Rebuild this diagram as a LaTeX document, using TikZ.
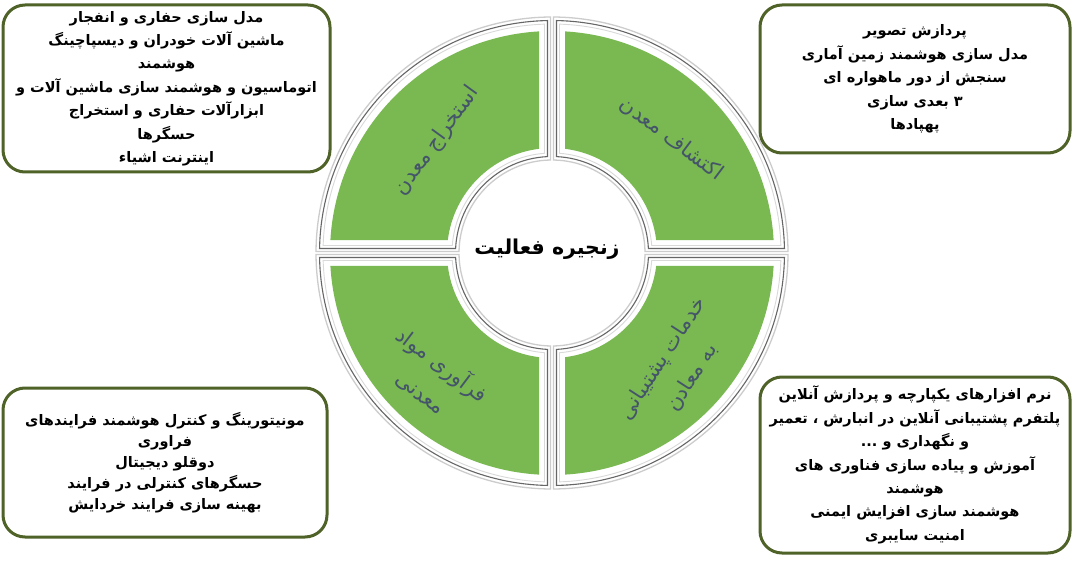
\documentclass[tikz,border=0pt]{standalone}
\usepackage{fontspec}
\newfontfamily\arabicfont[Script=Arabic]{DejaVu Sans}
\TeXXeTstate=1
\definecolor{segGreen}{RGB}{122,184,82}
\definecolor{boxGreen}{RGB}{79,98,40}
\definecolor{slate}{RGB}{68,84,106}
\tikzset{
  qshape/.style n args={3}{insert path={({180-asin(#1/#3)}:#3) -- ({180-asin(#1/#2)}:#2)
     arc[start angle={180-asin(#1/#2)}, end angle={90+asin(#1/#2)}, radius=#2]
     -- ({90+asin(#1/#3)}:#3)
     arc[start angle={90+asin(#1/#3)}, end angle={180-asin(#1/#3)}, radius=#3] -- cycle}},
  infobox/.style={draw=boxGreen, line width=3, rounded corners=22, fill=white, inner sep=0pt,
     align=center, font=\arabicfont\bfseries\fontsize{14.5}{23.4}\selectfont},
  segtext/.style={text=slate, align=center, inner sep=0pt,
     font=\arabicfont\fontsize{21}{35}\selectfont},
  centertext/.style={text=black, inner sep=0pt, font=\arabicfont\bfseries\fontsize{20.5}{24}\selectfont}
}
\begin{document}
\begin{tikzpicture}[x=1pt,y=1pt]
\useasboundingbox (0,0) rectangle (1073,563);
\fill[white] (0,0) rectangle (1073,563);
\coordinate (C) at (552,310);
\foreach \a in {0,-90,180,90}{
  \begin{scope}[shift={(C)}, rotate=\a]
    \draw[gray!40, line width=1.3, fill=white, qshape={1.5}{93}{236}];
    \draw[black!60, line width=1.1, qshape={4.5}{96.5}{232.5}];
    \draw[gray!30, line width=0.9, qshape={7.5}{100}{229}];
    \fill[segGreen, qshape={13}{105}{222}];
  \end{scope}
}
\node[segtext, rotate=-37] (explore) at (672,424) {\beginR اکتشاف معدن\endR};
\node[segtext, rotate=54] (extract) at (437,422) {\beginR استخراج معدن\endR};
\node[segtext, rotate=-37] (process) at (432,185) {\beginR فرآوری مواد\endR\\\beginR معدنی\endR};
\node[segtext, rotate=57] (support) at (677,195) {\beginR خدمات پشتیبانی\endR\\\beginR به معادن\endR};
\node[centertext] (chain) at (547,314) {\beginR زنجیره فعالیت\endR};

\node[infobox, minimum width=327, minimum height=167] (mine) at (166.5,474.5)
  {\beginR مدل سازی حفاری و انفجار\endR\\
   \beginR ماشین آلات خودران  و دیسپاچینگ\endR\\
   \beginR هوشمند\endR\\
   \beginR اتوماسیون و هوشمند سازی ماشین آلات و\endR\\
   \beginR ابزارآلات حفاری و استخراج\endR\\
   \beginR حسگرها\endR\\
   \beginR اینترنت اشیاء\endR};
\node[infobox, minimum width=310, minimum height=148] (expl) at (915,484)
  {\beginR پردازش تصویر\endR\\
   \beginR مدل سازی هوشمند زمین آماری\endR\\
   \beginR سنجش از دور ماهواره ای\endR\\
   \beginR ۳ بعدی سازی\endR\\
   \beginR پهپادها\endR};
\node[infobox, minimum width=324, minimum height=149,
      font=\arabicfont\bfseries\fontsize{14.5}{21}\selectfont] (proc) at (165,100.5)
  {\beginR مونیتورینگ و کنترل هوشمند فرایندهای\endR\\
   \beginR فراوری\endR\\
   \beginR دوقلو دیجیتال\endR\\
   \beginR حسگرهای کنترلی در فرایند\endR\\
   \beginR بهینه سازی فرایند خردایش\endR};
\node[infobox, minimum width=310, minimum height=176] (serv) at (915,98)
  {\beginR نرم افزارهای یکپارچه و پردازش آنلاین\endR\\
   \beginR پلتفرم پشتیبانی آنلاین در انبارش ، تعمیر\endR\\
   \beginR و نگهداری و ...\endR\\
   \beginR آموزش و پیاده سازی فناوری های\endR\\
   \beginR هوشمند\endR\\
   \beginR هوشمند سازی افزایش ایمنی\endR\\
   \beginR امنیت سایبری\endR};
\end{tikzpicture}
\end{document}
